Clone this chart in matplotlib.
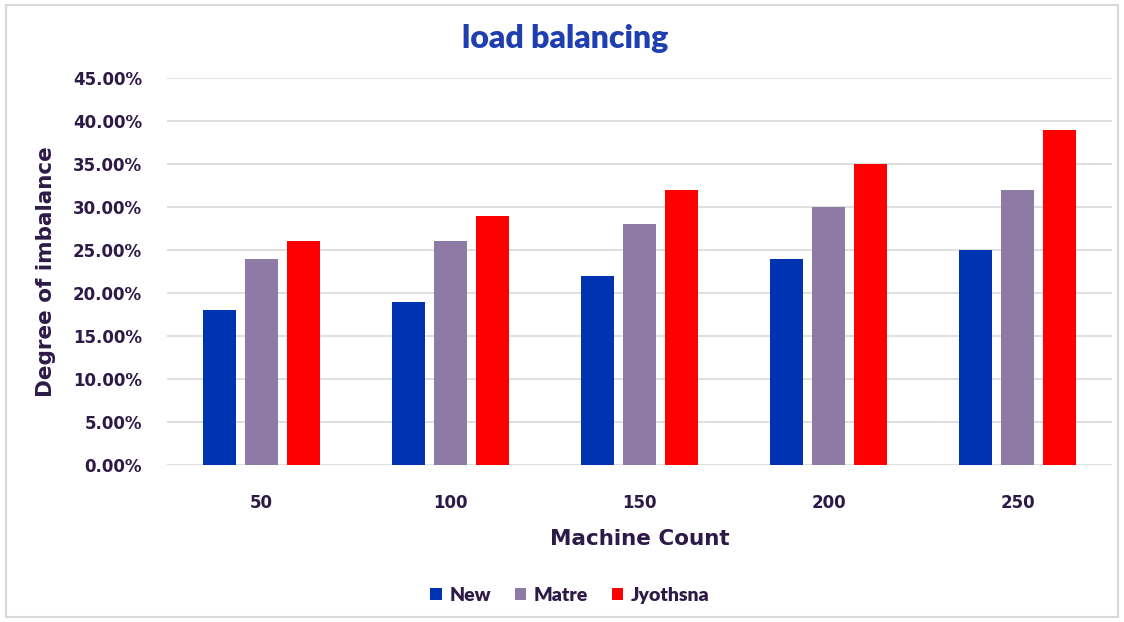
import numpy as np
import matplotlib
matplotlib.use('Agg')
import matplotlib.pyplot as plt
from matplotlib.ticker import FuncFormatter

categories = ['50', '100', '150', '200', '250']
new = [18, 19, 22, 24, 25]
matre = [24, 26, 28, 30, 32]
jyothsna = [26, 29, 32, 35, 39]

series = [('New', new, '#0033b2'),
          ('Matre', matre, '#8e7ba5'),
          ('Jyothsna', jyothsna, '#ff0000')]

text_col = '#2e1a47'

fig = plt.figure(figsize=(11.24, 6.22), dpi=100)
ax = fig.add_axes([0.1486, 0.2524, 0.8407, 0.6222])

x = np.arange(len(categories))
w = 0.175
step = 0.222
for i, (name, vals, col) in enumerate(series):
    ax.bar(x + (i - 1) * step, vals, width=w, color=col, label=name, zorder=3)

ax.set_xlim(-0.5, len(categories) - 0.5)
ax.set_ylim(0, 45)
ax.set_yticks(np.arange(0, 46, 5))
ax.yaxis.set_major_formatter(FuncFormatter(lambda v, p: '%.2f%%' % v))
ax.grid(axis='y', color='#d9d9d9', linewidth=1.2, zorder=0)
for s in ax.spines.values():
    s.set_visible(False)
ax.tick_params(length=0)
ax.tick_params(axis='y', pad=18)
ax.tick_params(axis='x', pad=21)
ax.set_xticks(x)
ax.set_xticklabels(categories)
for lab in ax.get_xticklabels() + ax.get_yticklabels():
    lab.set_fontsize(12)
    lab.set_fontweight('bold')
    lab.set_color(text_col)

ax.set_xlabel('Machine Count', fontsize=15.5, fontweight='bold', color=text_col, labelpad=12)
ax.set_ylabel('Degree of imbalance', fontsize=15.5, fontweight='bold', color=text_col, labelpad=12)

fig.text(0.503, 0.938, 'load balancing', ha='center', va='center',
         fontsize=23, fontweight='heavy', color='#1f3fb0', family='Lato')

leg = fig.legend(loc='center', bbox_to_anchor=(0.507, 0.043), ncol=3, frameon=False,
                 prop={'family': 'Lato', 'weight': 'heavy', 'size': 14},
                 handlelength=0.6, handleheight=0.6, handletextpad=0.4, columnspacing=1.2)
for t in leg.get_texts():
    t.set_color(text_col)

fig.patches.append(plt.Rectangle((0.005, 0.008), 0.99, 0.984, transform=fig.transFigure,
                                 fill=False, edgecolor='#d9d9d9', linewidth=1.5))

fig.savefig('out.png', dpi=100)
